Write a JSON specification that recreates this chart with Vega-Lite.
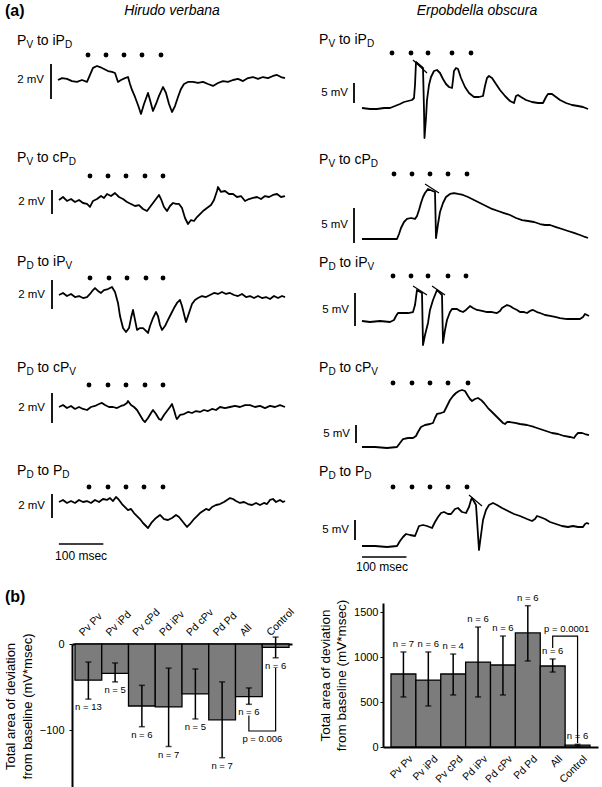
{
"$schema":"https://vega.github.io/schema/vega-lite/v6.json",
"padding":0,
"spacing":0,
"bounds":"flush",
"config":{"view":{"stroke":null},"font":"Liberation Sans","text":{"color":"black"},"point":{"size":24,"filled":true,"color":"black","opacity":1},"axis":{"labelColor":"black","titleColor":"black","domainColor":"black","tickColor":"black","grid":false},"concat":{"spacing":0}},
"vconcat":[
{"width":602,"height":120,"data":{"values":[{}]},"resolve":{"scale":{"x":"independent","y":"independent"}},"layer":[
{"layer":[
{"data":{"values":[{"t":0,"v":0},{"t":9,"v":0.11},{"t":20.25,"v":0.06},{"t":31.5,"v":-0.06},{"t":42.75,"v":-0.11},{"t":54,"v":0},{"t":65.25,"v":-0.11},{"t":72,"v":0.29},{"t":78.75,"v":0.69},{"t":87.75,"v":0.8},{"t":94.5,"v":0.74},{"t":103.5,"v":0.63},{"t":112.5,"v":0.51},{"t":121.5,"v":0.46},{"t":128.25,"v":0.4},{"t":135,"v":-0.11},{"t":141.75,"v":0},{"t":150.75,"v":0.11},{"t":157.5,"v":0.17},{"t":162,"v":-0.23},{"t":166.5,"v":-0.57},{"t":173.25,"v":-0.97},{"t":180,"v":-1.43},{"t":186.75,"v":-1.94},{"t":193.5,"v":-1.37},{"t":202.5,"v":-0.74},{"t":207,"v":-1.14},{"t":213.75,"v":-1.77},{"t":220.5,"v":-1.37},{"t":227.25,"v":-0.91},{"t":236.25,"v":-0.4},{"t":243,"v":-0.74},{"t":249.75,"v":-1.37},{"t":256.5,"v":-1.83},{"t":263.25,"v":-1.49},{"t":270,"v":-0.97},{"t":276.75,"v":-0.51},{"t":283.5,"v":-0.23},{"t":292.5,"v":-0.11},{"t":303.75,"v":-0.11},{"t":315,"v":-0.17},{"t":326.25,"v":-0.11},{"t":337.5,"v":-0.23},{"t":348.75,"v":-0.34},{"t":360,"v":-0.17},{"t":371.25,"v":-0.06},{"t":382.5,"v":-0.11},{"t":393.75,"v":0},{"t":405,"v":0.06},{"t":416.25,"v":-0.06},{"t":427.5,"v":0.11},{"t":438.75,"v":0.17},{"t":450,"v":0.06},{"t":461.25,"v":0.17},{"t":472.5,"v":0.11},{"t":483.75,"v":0.23},{"t":492.75,"v":0.29},{"t":501.75,"v":0.17},{"t":510.75,"v":0.11}]},
 "mark":{"type":"line","color":"black","strokeWidth":1.8,"strokeJoin":"round"},
 "encoding":{"x":{"field":"t","type":"quantitative","scale":{"domain":[-130.5,1224],"nice":false,"zero":false},"axis":null},"y":{"field":"v","type":"quantitative","scale":{"domain":[-2.2857,4.5714],"nice":false,"zero":false},"axis":null}}},
{"data":{"values":[{"t":67.5},{"t":108},{"t":148.5},{"t":189},{"t":231.75}]},"mark":{"type":"point"},"encoding":{"x":{"field":"t","type":"quantitative"},"y":{"datum":1.429,"type":"quantitative"}}},
{"mark":{"type":"rule","color":"black","strokeWidth":1.8},"encoding":{"x":{"datum":-15.75,"type":"quantitative"},"y":{"datum":0.914,"type":"quantitative"},"y2":{"datum":-1.086}}},
{"mark":{"type":"text","text":"2 mV","align":"right","baseline":"middle","dx":-7,"fontSize":11.5},"encoding":{"x":{"datum":-15.75,"type":"quantitative"},"y":{"datum":0,"type":"quantitative"}}},
{"mark":{"type":"text","text":"P","align":"left","baseline":"alphabetic","fontSize":14},"encoding":{"x":{"datum":-92.25,"type":"quantitative"},"y":{"datum":2.0,"type":"quantitative"}}},
{"mark":{"type":"text","text":"V","align":"left","baseline":"alphabetic","fontSize":10,"dx":9.4,"dy":3},"encoding":{"x":{"datum":-92.25,"type":"quantitative"},"y":{"datum":2.0,"type":"quantitative"}}},
{"mark":{"type":"text","text":"to iP","align":"left","baseline":"alphabetic","fontSize":14,"dx":19.9},"encoding":{"x":{"datum":-92.25,"type":"quantitative"},"y":{"datum":2.0,"type":"quantitative"}}},
{"mark":{"type":"text","text":"D","align":"left","baseline":"alphabetic","fontSize":10,"dx":47.9,"dy":3},"encoding":{"x":{"datum":-92.25,"type":"quantitative"},"y":{"datum":2.0,"type":"quantitative"}}},
{"mark":{"type":"text","text":"(a)","align":"left","baseline":"alphabetic","fontSize":16,"fontWeight":"bold"},"encoding":{"x":{"datum":-119.25,"type":"quantitative"},"y":{"datum":3.657,"type":"quantitative"}}},
{"mark":{"type":"text","text":"Hirudo verbana","align":"center","baseline":"alphabetic","fontSize":14,"fontStyle":"italic"},"encoding":{"x":{"datum":256.5,"type":"quantitative"},"y":{"datum":3.714,"type":"quantitative"}}}
]},
{"layer":[
{"data":{"values":[{"t":0,"v":0},{"t":18,"v":-0.25},{"t":33.75,"v":-0.25},{"t":49.5,"v":0},{"t":63,"v":0},{"t":74.25,"v":0.5},{"t":85.5,"v":1.0},{"t":94.5,"v":1.5},{"t":103.5,"v":1.75},{"t":112.5,"v":2.0},{"t":117,"v":2.5},{"t":119.25,"v":5.75},{"t":121.5,"v":11.5},{"t":137.25,"v":10},{"t":139.5,"v":-0.5},{"t":140.6,"v":-7.5},{"t":144,"v":-2.5},{"t":146.25,"v":2},{"t":150.75,"v":5.75},{"t":155.25,"v":7.75},{"t":162,"v":9.25},{"t":168.75,"v":9.5},{"t":175.5,"v":8.75},{"t":182.25,"v":7.25},{"t":189,"v":6},{"t":195.75,"v":5.25},{"t":202.5,"v":5},{"t":204.75,"v":7},{"t":207,"v":9.25},{"t":211.5,"v":10},{"t":216,"v":9.75},{"t":222.75,"v":7.5},{"t":231.75,"v":5.25},{"t":240.75,"v":3.75},{"t":252,"v":2.75},{"t":263.25,"v":2.75},{"t":272.25,"v":3},{"t":276.75,"v":5.5},{"t":281.25,"v":7.5},{"t":285.75,"v":8},{"t":292.5,"v":7.5},{"t":301.5,"v":6},{"t":310.5,"v":4.5},{"t":321.75,"v":3},{"t":333,"v":1.75},{"t":342,"v":1.25},{"t":346.5,"v":3},{"t":351,"v":3.25},{"t":357.75,"v":2.75},{"t":369,"v":2},{"t":382.5,"v":1.5},{"t":396,"v":1.25},{"t":407.25,"v":1.25},{"t":414,"v":2.75},{"t":418.5,"v":3.5},{"t":427.5,"v":3.5},{"t":436.5,"v":2.75},{"t":445.5,"v":2},{"t":459,"v":1.25},{"t":472.5,"v":0.75},{"t":486,"v":0.5},{"t":497.25,"v":0.25},{"t":508.5,"v":-0.25}]},
 "mark":{"type":"line","color":"black","strokeWidth":1.8,"strokeJoin":"round"},
 "encoding":{"x":{"field":"t","type":"quantitative","scale":{"domain":[-814.5,540],"nice":false,"zero":false},"axis":null},"y":{"field":"v","type":"quantitative","scale":{"domain":[-3,27],"nice":false,"zero":false},"axis":null}}},
{"data":{"values":[{"t":114.75,"v":12,"t2":146.25,"v2":8.75}]},"mark":{"type":"rule","color":"black","strokeWidth":1.2},"encoding":{"x":{"field":"t","type":"quantitative"},"y":{"field":"v","type":"quantitative"},"x2":{"field":"t2"},"y2":{"field":"v2"}}},
{"data":{"values":[{"t":67.5},{"t":110.25},{"t":148.5},{"t":202.5},{"t":245.25}]},"mark":{"type":"point"},"encoding":{"x":{"field":"t","type":"quantitative"},"y":{"datum":13.75,"type":"quantitative"}}},
{"mark":{"type":"rule","color":"black","strokeWidth":1.8},"encoding":{"x":{"datum":-18,"type":"quantitative"},"y":{"datum":6.25,"type":"quantitative"},"y2":{"datum":1.25}}},
{"mark":{"type":"text","text":"5 mV","align":"right","baseline":"middle","dx":-6,"fontSize":11.5},"encoding":{"x":{"datum":-18,"type":"quantitative"},"y":{"datum":3.75,"type":"quantitative"}}},
{"mark":{"type":"text","text":"P","align":"left","baseline":"alphabetic","fontSize":14},"encoding":{"x":{"datum":-96.75,"type":"quantitative"},"y":{"datum":16,"type":"quantitative"}}},
{"mark":{"type":"text","text":"V","align":"left","baseline":"alphabetic","fontSize":10,"dx":9.4,"dy":3},"encoding":{"x":{"datum":-96.75,"type":"quantitative"},"y":{"datum":16,"type":"quantitative"}}},
{"mark":{"type":"text","text":"to iP","align":"left","baseline":"alphabetic","fontSize":14,"dx":19.9},"encoding":{"x":{"datum":-96.75,"type":"quantitative"},"y":{"datum":16,"type":"quantitative"}}},
{"mark":{"type":"text","text":"D","align":"left","baseline":"alphabetic","fontSize":10,"dx":47.9,"dy":3},"encoding":{"x":{"datum":-96.75,"type":"quantitative"},"y":{"datum":16,"type":"quantitative"}}},
{"mark":{"type":"text","text":"Erpobdella obscura","align":"center","baseline":"alphabetic","fontSize":14,"fontStyle":"italic"},"encoding":{"x":{"datum":258.75,"type":"quantitative"},"y":{"datum":23.375,"type":"quantitative"}}}
]}
]},
{"width":602,"height":115,"data":{"values":[{}]},"resolve":{"scale":{"x":"independent","y":"independent"}},"layer":[
{"layer":[
{"data":{"values":[{"t":2.25,"v":0},{"t":11.25,"v":0.25},{"t":20.25,"v":-0.08},{"t":29.25,"v":0.08},{"t":38.25,"v":-0.17},{"t":47.25,"v":0},{"t":56.25,"v":-0.25},{"t":65.25,"v":-0.33},{"t":72,"v":-0.58},{"t":78.75,"v":-0.08},{"t":87.75,"v":0.08},{"t":96.75,"v":0.33},{"t":103.5,"v":0.17},{"t":110.25,"v":0.5},{"t":119.25,"v":0.33},{"t":128.25,"v":0.58},{"t":137.25,"v":0.25},{"t":146.25,"v":0.08},{"t":155.25,"v":-0.17},{"t":164.25,"v":-0.33},{"t":173.25,"v":-0.5},{"t":182.25,"v":-0.42},{"t":191.25,"v":-0.75},{"t":200.25,"v":-0.92},{"t":207,"v":-0.58},{"t":213.75,"v":-0.25},{"t":220.5,"v":0.08},{"t":227.25,"v":0.42},{"t":231.75,"v":0.08},{"t":238.5,"v":-0.58},{"t":245.25,"v":-0.92},{"t":252,"v":-0.5},{"t":258.75,"v":-0.25},{"t":265.5,"v":-0.33},{"t":272.25,"v":-0.33},{"t":279,"v":-0.67},{"t":285.75,"v":-1.5},{"t":292.5,"v":-2.0},{"t":299.25,"v":-1.67},{"t":306,"v":-1.75},{"t":312.75,"v":-1.42},{"t":319.5,"v":-1.17},{"t":326.25,"v":-0.92},{"t":335.25,"v":-0.67},{"t":344.25,"v":-0.42},{"t":351,"v":0},{"t":357.75,"v":0.75},{"t":360,"v":1.08},{"t":366.75,"v":0.67},{"t":375.75,"v":0.75},{"t":384.75,"v":0.5},{"t":393.75,"v":0.5},{"t":402.75,"v":0.25},{"t":411.75,"v":0.33},{"t":420.75,"v":-0.08},{"t":429.75,"v":0.08},{"t":438.75,"v":0.17},{"t":447.75,"v":0.25},{"t":456.75,"v":0.08},{"t":465.75,"v":0.33},{"t":474.75,"v":0.25},{"t":483.75,"v":0.42},{"t":492.75,"v":0.5},{"t":501.75,"v":0.25},{"t":510.75,"v":0.33}]},
 "mark":{"type":"line","color":"black","strokeWidth":1.8,"strokeJoin":"round"},
 "encoding":{"x":{"field":"t","type":"quantitative","scale":{"domain":[-130.5,1224],"nice":false,"zero":false},"axis":null},"y":{"field":"v","type":"quantitative","scale":{"domain":[-2.9167,6.6667],"nice":false,"zero":false},"axis":null}}},
{"data":{"values":[{"t":72},{"t":112.5},{"t":153},{"t":195.75},{"t":236.25}]},"mark":{"type":"point"},"encoding":{"x":{"field":"t","type":"quantitative"},"y":{"datum":2.0,"type":"quantitative"}}},
{"mark":{"type":"rule","color":"black","strokeWidth":1.8},"encoding":{"x":{"datum":-13.5,"type":"quantitative"},"y":{"datum":0.833,"type":"quantitative"},"y2":{"datum":-1.167}}},
{"mark":{"type":"text","text":"2 mV","align":"right","baseline":"middle","dx":-7,"fontSize":11.5},"encoding":{"x":{"datum":-13.5,"type":"quantitative"},"y":{"datum":-0.167,"type":"quantitative"}}},
{"mark":{"type":"text","text":"P","align":"left","baseline":"alphabetic","fontSize":14},"encoding":{"x":{"datum":-92.25,"type":"quantitative"},"y":{"datum":3.167,"type":"quantitative"}}},
{"mark":{"type":"text","text":"V","align":"left","baseline":"alphabetic","fontSize":10,"dx":9.4,"dy":3},"encoding":{"x":{"datum":-92.25,"type":"quantitative"},"y":{"datum":3.167,"type":"quantitative"}}},
{"mark":{"type":"text","text":"to cP","align":"left","baseline":"alphabetic","fontSize":14,"dx":19.9},"encoding":{"x":{"datum":-92.25,"type":"quantitative"},"y":{"datum":3.167,"type":"quantitative"}}},
{"mark":{"type":"text","text":"D","align":"left","baseline":"alphabetic","fontSize":10,"dx":51.8,"dy":3},"encoding":{"x":{"datum":-92.25,"type":"quantitative"},"y":{"datum":3.167,"type":"quantitative"}}}
]},
{"layer":[
{"data":{"values":[{"t":0,"v":0},{"t":29.25,"v":0},{"t":56.25,"v":0},{"t":78.75,"v":0},{"t":83.25,"v":0.71},{"t":87.75,"v":1.57},{"t":94.5,"v":2.43},{"t":101.25,"v":2.86},{"t":110.25,"v":3.0},{"t":119.25,"v":2.86},{"t":123.75,"v":3.29},{"t":128.25,"v":4.14},{"t":132.75,"v":5.14},{"t":137.25,"v":6.0},{"t":141.75,"v":6.57},{"t":148.5,"v":7.14},{"t":164.25,"v":6.71},{"t":166.5,"v":0.14},{"t":171,"v":2.14},{"t":175.5,"v":3.86},{"t":182.25,"v":5.14},{"t":189,"v":6.0},{"t":198,"v":6.43},{"t":207,"v":6.57},{"t":216,"v":6.43},{"t":227.25,"v":6.29},{"t":238.5,"v":6.0},{"t":252,"v":5.57},{"t":265.5,"v":5.14},{"t":279,"v":4.71},{"t":292.5,"v":4.29},{"t":306,"v":4.0},{"t":319.5,"v":3.71},{"t":333,"v":3.43},{"t":346.5,"v":3.0},{"t":360,"v":2.71},{"t":373.5,"v":2.57},{"t":387,"v":2.43},{"t":400.5,"v":2.14},{"t":411.75,"v":2.0},{"t":423,"v":2.0},{"t":436.5,"v":1.71},{"t":450,"v":1.43},{"t":463.5,"v":1.14},{"t":477,"v":0.86},{"t":490.5,"v":0.57},{"t":501.75,"v":0.29},{"t":508.5,"v":0.14}]},
 "mark":{"type":"line","color":"black","strokeWidth":1.8,"strokeJoin":"round"},
 "encoding":{"x":{"field":"t","type":"quantitative","scale":{"domain":[-814.5,540],"nice":false,"zero":false},"axis":null},"y":{"field":"v","type":"quantitative","scale":{"domain":[0.5714,17],"nice":false,"zero":false},"axis":null}}},
{"data":{"values":[{"t":141.75,"v":7.86,"t2":173.25,"v2":6.57}]},"mark":{"type":"rule","color":"black","strokeWidth":1.2},"encoding":{"x":{"field":"t","type":"quantitative"},"y":{"field":"v","type":"quantitative"},"x2":{"field":"t2"},"y2":{"field":"v2"}}},
{"data":{"values":[{"t":72},{"t":112.5},{"t":153},{"t":193.5},{"t":236.25}]},"mark":{"type":"point"},"encoding":{"x":{"field":"t","type":"quantitative"},"y":{"datum":9.286,"type":"quantitative"}}},
{"mark":{"type":"rule","color":"black","strokeWidth":1.8},"encoding":{"x":{"datum":-18,"type":"quantitative"},"y":{"datum":4.429,"type":"quantitative"},"y2":{"datum":-0.571}}},
{"mark":{"type":"text","text":"5 mV","align":"right","baseline":"middle","dx":-6,"fontSize":11.5},"encoding":{"x":{"datum":-18,"type":"quantitative"},"y":{"datum":1.929,"type":"quantitative"}}},
{"mark":{"type":"text","text":"P","align":"left","baseline":"alphabetic","fontSize":14},"encoding":{"x":{"datum":-96.75,"type":"quantitative"},"y":{"datum":10.714,"type":"quantitative"}}},
{"mark":{"type":"text","text":"V","align":"left","baseline":"alphabetic","fontSize":10,"dx":9.4,"dy":3},"encoding":{"x":{"datum":-96.75,"type":"quantitative"},"y":{"datum":10.714,"type":"quantitative"}}},
{"mark":{"type":"text","text":"to cP","align":"left","baseline":"alphabetic","fontSize":14,"dx":19.9},"encoding":{"x":{"datum":-96.75,"type":"quantitative"},"y":{"datum":10.714,"type":"quantitative"}}},
{"mark":{"type":"text","text":"D","align":"left","baseline":"alphabetic","fontSize":10,"dx":51.8,"dy":3},"encoding":{"x":{"datum":-96.75,"type":"quantitative"},"y":{"datum":10.714,"type":"quantitative"}}}
]}
]},
{"width":602,"height":110,"data":{"values":[{}]},"resolve":{"scale":{"x":"independent","y":"independent"}},"layer":[
{"layer":[
{"data":{"values":[{"t":2.25,"v":0},{"t":11.25,"v":0.14},{"t":20.25,"v":-0.07},{"t":29.25,"v":0.07},{"t":38.25,"v":-0.14},{"t":47.25,"v":-0.07},{"t":56.25,"v":-0.21},{"t":65.25,"v":-0.14},{"t":72,"v":0.07},{"t":78.75,"v":0.34},{"t":83.25,"v":0.48},{"t":90,"v":0.28},{"t":96.75,"v":0.14},{"t":103.5,"v":0.34},{"t":112.5,"v":0.41},{"t":121.5,"v":0.55},{"t":128.25,"v":0.21},{"t":135,"v":-0.55},{"t":139.5,"v":-1.45},{"t":146.25,"v":-2.28},{"t":153,"v":-2.55},{"t":159.75,"v":-2.28},{"t":164.25,"v":-1.59},{"t":168.75,"v":-1.03},{"t":173.25,"v":-1.72},{"t":177.75,"v":-2.41},{"t":184.5,"v":-2.28},{"t":191.25,"v":-2.28},{"t":198,"v":-2.48},{"t":202.5,"v":-2.62},{"t":207,"v":-2.14},{"t":213.75,"v":-1.59},{"t":220.5,"v":-1.17},{"t":225,"v":-1.45},{"t":229.5,"v":-2.07},{"t":234,"v":-2.41},{"t":240.75,"v":-2.14},{"t":247.5,"v":-1.72},{"t":254.25,"v":-1.31},{"t":261,"v":-0.9},{"t":267.75,"v":-0.55},{"t":274.5,"v":-0.34},{"t":279,"v":-0.76},{"t":285.75,"v":-1.59},{"t":288,"v":-1.86},{"t":294.75,"v":-1.24},{"t":301.5,"v":-0.62},{"t":308.25,"v":-0.34},{"t":315,"v":-0.21},{"t":324,"v":-0.07},{"t":333,"v":-0.14},{"t":342,"v":0},{"t":351,"v":0.14},{"t":360,"v":0.07},{"t":369,"v":0.21},{"t":378,"v":0.07},{"t":387,"v":0.14},{"t":396,"v":0},{"t":405,"v":-0.07},{"t":414,"v":0.07},{"t":423,"v":-0.14},{"t":432,"v":-0.07},{"t":441,"v":-0.21},{"t":450,"v":-0.07},{"t":459,"v":-0.21},{"t":468,"v":-0.14},{"t":477,"v":-0.28},{"t":486,"v":-0.07},{"t":495,"v":-0.21},{"t":504,"v":-0.07},{"t":510.75,"v":-0.14}]},
 "mark":{"type":"line","color":"black","strokeWidth":1.8,"strokeJoin":"round"},
 "encoding":{"x":{"field":"t","type":"quantitative","scale":{"domain":[-130.5,1224],"nice":false,"zero":false},"axis":null},"y":{"field":"v","type":"quantitative","scale":{"domain":[-3.4483,4.1379],"nice":false,"zero":false},"axis":null}}},
{"data":{"values":[{"t":72},{"t":114.75},{"t":155.25},{"t":198},{"t":236.25}]},"mark":{"type":"point"},"encoding":{"x":{"field":"t","type":"quantitative"},"y":{"datum":1.172,"type":"quantitative"}}},
{"mark":{"type":"rule","color":"black","strokeWidth":1.8},"encoding":{"x":{"datum":-13.5,"type":"quantitative"},"y":{"datum":1.034,"type":"quantitative"},"y2":{"datum":-0.966}}},
{"mark":{"type":"text","text":"2 mV","align":"right","baseline":"middle","dx":-7,"fontSize":11.5},"encoding":{"x":{"datum":-13.5,"type":"quantitative"},"y":{"datum":0.034,"type":"quantitative"}}},
{"mark":{"type":"text","text":"P","align":"left","baseline":"alphabetic","fontSize":14},"encoding":{"x":{"datum":-92.25,"type":"quantitative"},"y":{"datum":2.0,"type":"quantitative"}}},
{"mark":{"type":"text","text":"D","align":"left","baseline":"alphabetic","fontSize":10,"dx":9.4,"dy":3},"encoding":{"x":{"datum":-92.25,"type":"quantitative"},"y":{"datum":2.0,"type":"quantitative"}}},
{"mark":{"type":"text","text":"to iP","align":"left","baseline":"alphabetic","fontSize":14,"dx":20.45},"encoding":{"x":{"datum":-92.25,"type":"quantitative"},"y":{"datum":2.0,"type":"quantitative"}}},
{"mark":{"type":"text","text":"V","align":"left","baseline":"alphabetic","fontSize":10,"dx":48.45,"dy":3},"encoding":{"x":{"datum":-92.25,"type":"quantitative"},"y":{"datum":2.0,"type":"quantitative"}}}
]},
{"layer":[
{"data":{"values":[{"t":0,"v":0},{"t":18,"v":-0.15},{"t":40.5,"v":0},{"t":63,"v":-0.15},{"t":72,"v":0.15},{"t":76.5,"v":0.76},{"t":81,"v":1.21},{"t":92.25,"v":1.21},{"t":103.5,"v":1.21},{"t":114.75,"v":1.36},{"t":119.25,"v":2.42},{"t":123.75,"v":4.7},{"t":135,"v":4.24},{"t":137.25,"v":-3.64},{"t":141.75,"v":-2.12},{"t":148.5,"v":-0.3},{"t":153,"v":1.67},{"t":159.75,"v":3.18},{"t":168.75,"v":4.7},{"t":180,"v":3.94},{"t":182.25,"v":-3.33},{"t":186.75,"v":-1.36},{"t":191.25,"v":0.15},{"t":198,"v":1.36},{"t":202.5,"v":1.82},{"t":213.75,"v":1.82},{"t":220.5,"v":1.52},{"t":227.25,"v":1.36},{"t":234,"v":1.67},{"t":243,"v":2.27},{"t":249.75,"v":1.97},{"t":258.75,"v":1.67},{"t":270,"v":1.52},{"t":281.25,"v":1.36},{"t":292.5,"v":1.36},{"t":303.75,"v":1.21},{"t":310.5,"v":1.52},{"t":315,"v":1.97},{"t":326.25,"v":2.42},{"t":333,"v":2.27},{"t":339.75,"v":1.97},{"t":348.75,"v":1.67},{"t":355.5,"v":1.36},{"t":364.5,"v":1.36},{"t":371.25,"v":1.21},{"t":378,"v":1.52},{"t":384.75,"v":1.67},{"t":393.75,"v":1.36},{"t":400.5,"v":1.21},{"t":411.75,"v":0.91},{"t":423,"v":0.76},{"t":434.25,"v":0.61},{"t":445.5,"v":0.45},{"t":461.25,"v":0.3},{"t":477,"v":0.3},{"t":490.5,"v":0.3},{"t":497.25,"v":0.61},{"t":501.75,"v":1.06},{"t":506.25,"v":0.91},{"t":510.75,"v":0.76}]},
 "mark":{"type":"line","color":"black","strokeWidth":1.8,"strokeJoin":"round"},
 "encoding":{"x":{"field":"t","type":"quantitative","scale":{"domain":[-814.5,540],"nice":false,"zero":false},"axis":null},"y":{"field":"v","type":"quantitative","scale":{"domain":[-3.6364,13.0303],"nice":false,"zero":false},"axis":null}}},
{"data":{"values":[{"t":114.75,"v":5.3,"t2":146.25,"v2":3.94},{"t":157.5,"v":5.3,"t2":186.75,"v2":3.94}]},"mark":{"type":"rule","color":"black","strokeWidth":1.2},"encoding":{"x":{"field":"t","type":"quantitative"},"y":{"field":"v","type":"quantitative"},"x2":{"field":"t2"},"y2":{"field":"v2"}}},
{"data":{"values":[{"t":69.75},{"t":110.25},{"t":148.5},{"t":193.5},{"t":234}]},"mark":{"type":"point"},"encoding":{"x":{"field":"t","type":"quantitative"},"y":{"datum":6.818,"type":"quantitative"}}},
{"mark":{"type":"rule","color":"black","strokeWidth":1.8},"encoding":{"x":{"datum":-15.75,"type":"quantitative"},"y":{"datum":4.242,"type":"quantitative"},"y2":{"datum":-0.758}}},
{"mark":{"type":"text","text":"5 mV","align":"right","baseline":"middle","dx":-6,"fontSize":11.5},"encoding":{"x":{"datum":-15.75,"type":"quantitative"},"y":{"datum":1.742,"type":"quantitative"}}},
{"mark":{"type":"text","text":"P","align":"left","baseline":"alphabetic","fontSize":14},"encoding":{"x":{"datum":-96.75,"type":"quantitative"},"y":{"datum":8.18,"type":"quantitative"}}},
{"mark":{"type":"text","text":"D","align":"left","baseline":"alphabetic","fontSize":10,"dx":9.4,"dy":3},"encoding":{"x":{"datum":-96.75,"type":"quantitative"},"y":{"datum":8.18,"type":"quantitative"}}},
{"mark":{"type":"text","text":"to iP","align":"left","baseline":"alphabetic","fontSize":14,"dx":20.45},"encoding":{"x":{"datum":-96.75,"type":"quantitative"},"y":{"datum":8.18,"type":"quantitative"}}},
{"mark":{"type":"text","text":"V","align":"left","baseline":"alphabetic","fontSize":10,"dx":48.45,"dy":3},"encoding":{"x":{"datum":-96.75,"type":"quantitative"},"y":{"datum":8.18,"type":"quantitative"}}}
]}
]},
{"width":602,"height":105,"data":{"values":[{}]},"resolve":{"scale":{"x":"independent","y":"independent"}},"layer":[
{"layer":[
{"data":{"values":[{"t":2.25,"v":0},{"t":11.25,"v":0.13},{"t":20.25,"v":-0.07},{"t":29.25,"v":0.07},{"t":38.25,"v":-0.13},{"t":47.25,"v":0},{"t":56.25,"v":-0.13},{"t":65.25,"v":-0.2},{"t":74.25,"v":0},{"t":83.25,"v":0.07},{"t":92.25,"v":0.2},{"t":99,"v":0.27},{"t":105.75,"v":0.13},{"t":114.75,"v":0},{"t":123.75,"v":0},{"t":132.75,"v":-0.07},{"t":141.75,"v":0.07},{"t":148.5,"v":0.13},{"t":155.25,"v":0.27},{"t":157.5,"v":0.4},{"t":164.25,"v":0.13},{"t":171,"v":0},{"t":177.75,"v":-0.2},{"t":184.5,"v":-0.53},{"t":191.25,"v":-0.87},{"t":195.75,"v":-1.0},{"t":202.5,"v":-0.73},{"t":209.25,"v":-0.4},{"t":213.75,"v":-0.2},{"t":220.5,"v":-0.47},{"t":227.25,"v":-0.8},{"t":231.75,"v":-0.87},{"t":238.5,"v":-0.53},{"t":245.25,"v":-0.27},{"t":252,"v":0},{"t":256.5,"v":0.2},{"t":261,"v":-0.2},{"t":265.5,"v":-0.67},{"t":267.75,"v":-0.8},{"t":274.5,"v":-0.53},{"t":283.5,"v":-0.47},{"t":292.5,"v":-0.33},{"t":301.5,"v":-0.4},{"t":310.5,"v":-0.27},{"t":319.5,"v":-0.33},{"t":328.5,"v":-0.2},{"t":337.5,"v":-0.27},{"t":346.5,"v":-0.13},{"t":355.5,"v":-0.2},{"t":364.5,"v":0},{"t":375.75,"v":-0.07},{"t":387,"v":0},{"t":398.25,"v":0.07},{"t":409.5,"v":0},{"t":420.75,"v":0.13},{"t":432,"v":0.13},{"t":443.25,"v":0},{"t":454.5,"v":0.07},{"t":465.75,"v":-0.07},{"t":477,"v":0.07},{"t":488.25,"v":0},{"t":499.5,"v":0.13},{"t":510.75,"v":0}]},
 "mark":{"type":"line","color":"black","strokeWidth":1.8,"strokeJoin":"round"},
 "encoding":{"x":{"field":"t","type":"quantitative","scale":{"domain":[-130.5,1224],"nice":false,"zero":false},"axis":null},"y":{"field":"v","type":"quantitative","scale":{"domain":[-2.8667,4.1333],"nice":false,"zero":false},"axis":null}}},
{"data":{"values":[{"t":69.75},{"t":112.5},{"t":153},{"t":195.75},{"t":236.25}]},"mark":{"type":"point"},"encoding":{"x":{"field":"t","type":"quantitative"},"y":{"datum":1.467,"type":"quantitative"}}},
{"mark":{"type":"rule","color":"black","strokeWidth":1.8},"encoding":{"x":{"datum":-13.5,"type":"quantitative"},"y":{"datum":0.933,"type":"quantitative"},"y2":{"datum":-1.067}}},
{"mark":{"type":"text","text":"2 mV","align":"right","baseline":"middle","dx":-7,"fontSize":11.5},"encoding":{"x":{"datum":-13.5,"type":"quantitative"},"y":{"datum":-0.067,"type":"quantitative"}}},
{"mark":{"type":"text","text":"P","align":"left","baseline":"alphabetic","fontSize":14},"encoding":{"x":{"datum":-92.25,"type":"quantitative"},"y":{"datum":2.333,"type":"quantitative"}}},
{"mark":{"type":"text","text":"D","align":"left","baseline":"alphabetic","fontSize":10,"dx":9.4,"dy":3},"encoding":{"x":{"datum":-92.25,"type":"quantitative"},"y":{"datum":2.333,"type":"quantitative"}}},
{"mark":{"type":"text","text":"to cP","align":"left","baseline":"alphabetic","fontSize":14,"dx":20.45},"encoding":{"x":{"datum":-92.25,"type":"quantitative"},"y":{"datum":2.333,"type":"quantitative"}}},
{"mark":{"type":"text","text":"V","align":"left","baseline":"alphabetic","fontSize":10,"dx":52.35,"dy":3},"encoding":{"x":{"datum":-92.25,"type":"quantitative"},"y":{"datum":2.333,"type":"quantitative"}}}
]},
{"layer":[
{"data":{"values":[{"t":0,"v":0},{"t":29.25,"v":0},{"t":56.25,"v":-0.28},{"t":78.75,"v":0},{"t":85.5,"v":1.11},{"t":92.25,"v":2.22},{"t":103.5,"v":2.5},{"t":114.75,"v":2.5},{"t":121.5,"v":3.06},{"t":126,"v":4.17},{"t":132.75,"v":5.56},{"t":141.75,"v":6.11},{"t":153,"v":6.39},{"t":159.75,"v":6.67},{"t":164.25,"v":8.06},{"t":168.75,"v":9.17},{"t":177.75,"v":9.44},{"t":184.5,"v":9.72},{"t":189,"v":10.83},{"t":193.5,"v":11.94},{"t":198,"v":13.06},{"t":204.75,"v":14.17},{"t":211.5,"v":15.0},{"t":218.25,"v":15.56},{"t":225,"v":15.83},{"t":231.75,"v":15.56},{"t":238.5,"v":14.17},{"t":243,"v":13.33},{"t":247.5,"v":12.78},{"t":254.25,"v":13.33},{"t":261,"v":13.61},{"t":267.75,"v":13.06},{"t":274.5,"v":12.22},{"t":283.5,"v":10.83},{"t":292.5,"v":9.72},{"t":301.5,"v":8.61},{"t":310.5,"v":7.5},{"t":317.25,"v":6.67},{"t":321.75,"v":6.39},{"t":326.25,"v":6.94},{"t":333,"v":6.94},{"t":344.25,"v":6.67},{"t":355.5,"v":6.39},{"t":371.25,"v":6.11},{"t":387,"v":5.56},{"t":400.5,"v":5.0},{"t":414,"v":4.44},{"t":427.5,"v":3.89},{"t":441,"v":3.61},{"t":454.5,"v":3.06},{"t":468,"v":2.78},{"t":477,"v":2.5},{"t":481.5,"v":3.33},{"t":486,"v":3.89},{"t":495,"v":3.89},{"t":501.75,"v":3.61},{"t":510.75,"v":3.33}]},
 "mark":{"type":"line","color":"black","strokeWidth":1.8,"strokeJoin":"round"},
 "encoding":{"x":{"field":"t","type":"quantitative","scale":{"domain":[-814.5,540],"nice":false,"zero":false},"axis":null},"y":{"field":"v","type":"quantitative","scale":{"domain":[-0.8333,28.3333],"nice":false,"zero":false},"axis":null}}},
{"data":{"values":[{"t":69.75},{"t":112.5},{"t":153},{"t":193.5},{"t":238.5}]},"mark":{"type":"point"},"encoding":{"x":{"field":"t","type":"quantitative"},"y":{"datum":17.78,"type":"quantitative"}}},
{"mark":{"type":"rule","color":"black","strokeWidth":1.8},"encoding":{"x":{"datum":-13.5,"type":"quantitative"},"y":{"datum":6.111,"type":"quantitative"},"y2":{"datum":1.111}}},
{"mark":{"type":"text","text":"5 mV","align":"right","baseline":"middle","dx":-6,"fontSize":11.5},"encoding":{"x":{"datum":-13.5,"type":"quantitative"},"y":{"datum":3.611,"type":"quantitative"}}},
{"mark":{"type":"text","text":"P","align":"left","baseline":"alphabetic","fontSize":14},"encoding":{"x":{"datum":-96.75,"type":"quantitative"},"y":{"datum":20.83,"type":"quantitative"}}},
{"mark":{"type":"text","text":"D","align":"left","baseline":"alphabetic","fontSize":10,"dx":9.4,"dy":3},"encoding":{"x":{"datum":-96.75,"type":"quantitative"},"y":{"datum":20.83,"type":"quantitative"}}},
{"mark":{"type":"text","text":"to cP","align":"left","baseline":"alphabetic","fontSize":14,"dx":20.45},"encoding":{"x":{"datum":-96.75,"type":"quantitative"},"y":{"datum":20.83,"type":"quantitative"}}},
{"mark":{"type":"text","text":"V","align":"left","baseline":"alphabetic","fontSize":10,"dx":52.35,"dy":3},"encoding":{"x":{"datum":-96.75,"type":"quantitative"},"y":{"datum":20.83,"type":"quantitative"}}}
]}
]},
{"width":602,"height":153,"data":{"values":[{}]},"resolve":{"scale":{"x":"independent","y":"independent"}},"layer":[
{"layer":[
{"data":{"values":[{"t":2.25,"v":0},{"t":11.25,"v":0.17},{"t":20.25,"v":-0.08},{"t":29.25,"v":0.08},{"t":38.25,"v":-0.08},{"t":47.25,"v":0.17},{"t":56.25,"v":0},{"t":65.25,"v":0.08},{"t":74.25,"v":-0.08},{"t":83.25,"v":0.17},{"t":92.25,"v":0},{"t":101.25,"v":0.25},{"t":110.25,"v":0.17},{"t":117,"v":0.33},{"t":123.75,"v":0.08},{"t":130.5,"v":0.42},{"t":137.25,"v":0.17},{"t":144,"v":-0.17},{"t":150.75,"v":-0.42},{"t":157.5,"v":-0.67},{"t":164.25,"v":-0.58},{"t":171,"v":-0.92},{"t":177.75,"v":-1.17},{"t":184.5,"v":-1.42},{"t":191.25,"v":-1.75},{"t":198,"v":-2.0},{"t":202.5,"v":-2.17},{"t":211.5,"v":-1.67},{"t":220.5,"v":-1.33},{"t":229.5,"v":-1.08},{"t":238.5,"v":-1.42},{"t":247.5,"v":-1.5},{"t":256.5,"v":-1.33},{"t":265.5,"v":-1.08},{"t":272.25,"v":-1.25},{"t":281.25,"v":-1.67},{"t":290.25,"v":-2.08},{"t":297,"v":-1.83},{"t":306,"v":-1.42},{"t":312.75,"v":-1.17},{"t":319.5,"v":-0.92},{"t":326.25,"v":-0.75},{"t":333,"v":-0.58},{"t":339.75,"v":-0.67},{"t":346.5,"v":-0.42},{"t":355.5,"v":-0.25},{"t":364.5,"v":-0.17},{"t":373.5,"v":0},{"t":380.25,"v":0.17},{"t":387,"v":0.33},{"t":393.75,"v":0.25},{"t":400.5,"v":0.08},{"t":409.5,"v":-0.08},{"t":418.5,"v":0},{"t":427.5,"v":-0.17},{"t":436.5,"v":-0.25},{"t":445.5,"v":-0.08},{"t":454.5,"v":-0.25},{"t":463.5,"v":-0.08},{"t":470.25,"v":-0.17},{"t":477,"v":0.17},{"t":483.75,"v":0.25},{"t":490.5,"v":0},{"t":499.5,"v":0.17},{"t":506.25,"v":0},{"t":510.75,"v":0.08}]},
 "mark":{"type":"line","color":"black","strokeWidth":1.8,"strokeJoin":"round"},
 "encoding":{"x":{"field":"t","type":"quantitative","scale":{"domain":[-130.5,1224],"nice":false,"zero":false},"axis":null},"y":{"field":"v","type":"quantitative","scale":{"domain":[-8.4167,4.3333],"nice":false,"zero":false},"axis":null}}},
{"data":{"values":[{"t":69.75},{"t":112.5},{"t":153},{"t":193.5},{"t":236.25}]},"mark":{"type":"point"},"encoding":{"x":{"field":"t","type":"quantitative"},"y":{"datum":1.25,"type":"quantitative"}}},
{"mark":{"type":"rule","color":"black","strokeWidth":1.8},"encoding":{"x":{"datum":-13.5,"type":"quantitative"},"y":{"datum":0.667,"type":"quantitative"},"y2":{"datum":-1.333}}},
{"mark":{"type":"text","text":"2 mV","align":"right","baseline":"middle","dx":-7,"fontSize":11.5},"encoding":{"x":{"datum":-13.5,"type":"quantitative"},"y":{"datum":-0.333,"type":"quantitative"}}},
{"mark":{"type":"rule","color":"black","strokeWidth":1.5},"encoding":{"x":{"datum":2,"type":"quantitative"},"x2":{"datum":102},"y":{"datum":-3.5,"type":"quantitative"}}},
{"mark":{"type":"text","text":"100 msec","align":"center","baseline":"alphabetic","fontSize":12},"encoding":{"x":{"datum":52,"type":"quantitative"},"y":{"datum":-4.833,"type":"quantitative"}}},
{"mark":{"type":"text","text":"(b)","align":"left","baseline":"alphabetic","fontSize":16,"fontWeight":"bold"},"encoding":{"x":{"datum":-119.25,"type":"quantitative"},"y":{"datum":-8.333,"type":"quantitative"}}},
{"mark":{"type":"text","text":"P","align":"left","baseline":"alphabetic","fontSize":14},"encoding":{"x":{"datum":-92.25,"type":"quantitative"},"y":{"datum":2.25,"type":"quantitative"}}},
{"mark":{"type":"text","text":"D","align":"left","baseline":"alphabetic","fontSize":10,"dx":9.4,"dy":3},"encoding":{"x":{"datum":-92.25,"type":"quantitative"},"y":{"datum":2.25,"type":"quantitative"}}},
{"mark":{"type":"text","text":"to P","align":"left","baseline":"alphabetic","fontSize":14,"dx":20.45},"encoding":{"x":{"datum":-92.25,"type":"quantitative"},"y":{"datum":2.25,"type":"quantitative"}}},
{"mark":{"type":"text","text":"D","align":"left","baseline":"alphabetic","fontSize":10,"dx":45.35,"dy":3},"encoding":{"x":{"datum":-92.25,"type":"quantitative"},"y":{"datum":2.25,"type":"quantitative"}}}
]},
{"layer":[
{"data":{"values":[{"t":0,"v":0},{"t":29.25,"v":0},{"t":56.25,"v":-0.25},{"t":78.75,"v":0},{"t":85.5,"v":1.25},{"t":92.25,"v":2.25},{"t":99,"v":3.0},{"t":108,"v":2.75},{"t":119.25,"v":2.5},{"t":123.75,"v":3.75},{"t":128.25,"v":5.0},{"t":137.25,"v":5.25},{"t":146.25,"v":5.0},{"t":157.5,"v":4.5},{"t":164.25,"v":6.0},{"t":171,"v":7.25},{"t":177.75,"v":8.25},{"t":184.5,"v":8.5},{"t":193.5,"v":8.0},{"t":200.25,"v":8.0},{"t":209.25,"v":9.25},{"t":216,"v":9.5},{"t":225,"v":8.5},{"t":234,"v":8.25},{"t":240.75,"v":9.75},{"t":245.25,"v":11.5},{"t":247.5,"v":12.0},{"t":256.5,"v":10.25},{"t":263.25,"v":-1.0},{"t":267.75,"v":2.75},{"t":272.25,"v":6.5},{"t":279,"v":9.0},{"t":285.75,"v":10.25},{"t":294.75,"v":10.75},{"t":303.75,"v":10.25},{"t":315,"v":9.5},{"t":328.5,"v":8.75},{"t":342,"v":8.0},{"t":355.5,"v":7.5},{"t":371.25,"v":6.75},{"t":382.5,"v":6.25},{"t":389.25,"v":6.75},{"t":393.75,"v":7.5},{"t":400.5,"v":7.25},{"t":411.75,"v":6.75},{"t":423,"v":6.0},{"t":436.5,"v":5.5},{"t":450,"v":5.0},{"t":463.5,"v":4.75},{"t":474.75,"v":5.0},{"t":486,"v":4.75},{"t":497.25,"v":4.75},{"t":501.75,"v":5.5},{"t":506.25,"v":5.75},{"t":510.75,"v":5.5}]},
 "mark":{"type":"line","color":"black","strokeWidth":1.8,"strokeJoin":"round"},
 "encoding":{"x":{"field":"t","type":"quantitative","scale":{"domain":[-814.5,540],"nice":false,"zero":false},"axis":null},"y":{"field":"v","type":"quantitative","scale":{"domain":[-14.25,24],"nice":false,"zero":false},"axis":null}}},
{"data":{"values":[{"t":240.75,"v":12.75,"t2":270,"v2":10}]},"mark":{"type":"rule","color":"black","strokeWidth":1.2},"encoding":{"x":{"field":"t","type":"quantitative"},"y":{"field":"v","type":"quantitative"},"x2":{"field":"t2"},"y2":{"field":"v2"}}},
{"data":{"values":[{"t":69.75},{"t":112.5},{"t":153},{"t":193.5},{"t":236.25}]},"mark":{"type":"point"},"encoding":{"x":{"field":"t","type":"quantitative"},"y":{"datum":14.75,"type":"quantitative"}}},
{"mark":{"type":"rule","color":"black","strokeWidth":1.8},"encoding":{"x":{"datum":-15.75,"type":"quantitative"},"y":{"datum":6.5,"type":"quantitative"},"y2":{"datum":1.5}}},
{"mark":{"type":"text","text":"5 mV","align":"right","baseline":"middle","dx":-6,"fontSize":11.5},"encoding":{"x":{"datum":-15.75,"type":"quantitative"},"y":{"datum":4.0,"type":"quantitative"}}},
{"mark":{"type":"rule","color":"black","strokeWidth":1.5},"encoding":{"x":{"datum":0,"type":"quantitative"},"x2":{"datum":100},"y":{"datum":-2.75,"type":"quantitative"}}},
{"mark":{"type":"text","text":"100 msec","align":"center","baseline":"alphabetic","fontSize":12},"encoding":{"x":{"datum":45,"type":"quantitative"},"y":{"datum":-6.25,"type":"quantitative"}}},
{"mark":{"type":"text","text":"P","align":"left","baseline":"alphabetic","fontSize":14},"encoding":{"x":{"datum":-96.75,"type":"quantitative"},"y":{"datum":17.5,"type":"quantitative"}}},
{"mark":{"type":"text","text":"D","align":"left","baseline":"alphabetic","fontSize":10,"dx":9.4,"dy":3},"encoding":{"x":{"datum":-96.75,"type":"quantitative"},"y":{"datum":17.5,"type":"quantitative"}}},
{"mark":{"type":"text","text":"to P","align":"left","baseline":"alphabetic","fontSize":14,"dx":20.45},"encoding":{"x":{"datum":-96.75,"type":"quantitative"},"y":{"datum":17.5,"type":"quantitative"}}},
{"mark":{"type":"text","text":"D","align":"left","baseline":"alphabetic","fontSize":10,"dx":45.35,"dy":3},"encoding":{"x":{"datum":-96.75,"type":"quantitative"},"y":{"datum":17.5,"type":"quantitative"}}}
]}
]},
{"width":602,"height":184,"resolve":{"scale":{"x":"independent","y":"independent"},"axis":{"x":"independent","y":"independent"}},"layer":[
{"data":{"values":[{"c":"Pv Pv","m":-42,"lo":-64,"hi":-21,"n":"n = 13"},{"c":"Pv iPd","m":-34,"lo":-44,"hi":-22,"n":"n = 5"},{"c":"Pv cPd","m":-72,"lo":-96,"hi":-48,"n":"n = 6"},{"c":"Pd iPv","m":-73,"lo":-119,"hi":-28,"n":"n = 7"},{"c":"Pd cPv","m":-58,"lo":-87,"hi":-29,"n":"n = 5"},{"c":"Pd Pd","m":-88,"lo":-132,"hi":-44,"n":"n = 7"},{"c":"All","m":-61,"lo":-70,"hi":-51,"n":"n = 6"},{"c":"Control","m":-4,"lo":-16,"hi":8,"n":"n = 6"}]},
 "encoding":{"x":{"field":"c","type":"nominal","scale":{"domain":["Pv Pv","Pv iPd","Pv cPd","Pd iPv","Pd cPv","Pd Pd","All","Control"],"range":[72,292],"paddingInner":0,"paddingOuter":0.112},"axis":{"orient":"top","offset":-41,"title":null,"labelAngle":-45,"labelAlign":"left","labelBaseline":"alphabetic","labelPadding":8,"labelOffset":-5,"ticks":false,"labelFontSize":10.5,"domainWidth":2,"labelOverlap":false,"labelBound":false}}},
 "layer":[
 {"mark":{"type":"bar","color":"#7c7c7c","stroke":"black","strokeWidth":1.3},"encoding":{"y":{"field":"m","type":"quantitative","scale":{"domain":[-166,0],"range":[184,41],"nice":false,"zero":false},"axis":{"orient":"left","offset":-72,"title":["Total area of deviation","from baseline (mV*msec)"],"values":[0,-100],"format":"d","domainWidth":2,"tickSize":3,"labelPadding":5,"labelFontSize":11,"titleFontSize":13,"titleFontWeight":"normal","titleLineHeight":16.5,"titlePadding":5,"titleY":103}},"y2":{"datum":0}}},
 {"mark":{"type":"rule","color":"black","strokeWidth":1.5},"encoding":{"y":{"field":"lo","type":"quantitative"},"y2":{"field":"hi"}}},
 {"mark":{"type":"tick","color":"black","orient":"horizontal","size":6,"thickness":1.5},"encoding":{"y":{"field":"lo","type":"quantitative"}}},
 {"mark":{"type":"tick","color":"black","orient":"horizontal","size":6,"thickness":1.5},"encoding":{"y":{"field":"hi","type":"quantitative"}}},
 {"mark":{"type":"text","baseline":"top","dy":3,"fontSize":9.5},"encoding":{"y":{"field":"lo","type":"quantitative"},"text":{"field":"n"}}},
 {"data":{"values":[{"c":"All","y":-83,"i":0},{"c":"All","y":-101,"i":1},{"c":"Control","y":-101,"i":2},{"c":"Control","y":-28,"i":3}]},"mark":{"type":"line","color":"black","strokeWidth":1.2},"encoding":{"y":{"field":"y","type":"quantitative"},"order":{"field":"i"}}},
 {"data":{"values":[{}]},"mark":{"type":"text","text":"p = 0.006","baseline":"top","dy":3,"dx":13.5,"fontSize":9.5},"encoding":{"x":{"datum":"All"},"y":{"datum":-101,"type":"quantitative"}}}
 ]},
{"data":{"values":[{"c":"Pv Pv","m":811,"lo":556,"hi":1056,"n":"n = 7"},{"c":"Pv iPd","m":744,"lo":456,"hi":1056,"n":"n = 6"},{"c":"Pv cPd","m":811,"lo":578,"hi":1033,"n":"n = 4"},{"c":"Pd iPv","m":944,"lo":556,"hi":1333,"n":"n = 6"},{"c":"Pd cPv","m":911,"lo":578,"hi":1233,"n":"n = 6"},{"c":"Pd Pd","m":1267,"lo":956,"hi":1570,"n":"n = 6"},{"c":"All","m":900,"lo":833,"hi":978,"n":"n = 6"},{"c":"Control","m":20,"lo":10,"hi":30,"n":"n = 6"}]},
 "encoding":{"x":{"field":"c","type":"nominal","scale":{"domain":["Pv Pv","Pv iPd","Pv cPd","Pd iPv","Pd cPv","Pd Pd","All","Control"],"range":[383,598],"paddingInner":0,"paddingOuter":0.3216},"axis":{"orient":"bottom","offset":-40,"title":null,"labelAngle":-45,"labelAlign":"right","labelBaseline":"middle","labelPadding":10,"labelOffset":8,"ticks":false,"labelFontSize":10.5,"domainWidth":2,"labelOverlap":false,"labelBound":false}}},
 "layer":[
 {"mark":{"type":"bar","color":"#7c7c7c","stroke":"black","strokeWidth":1.3},"encoding":{"y":{"field":"m","type":"quantitative","scale":{"domain":[0,1600],"range":[144,0],"nice":false,"zero":false},"axis":{"orient":"left","offset":-383,"title":["Total area of deviation","from baseline (mV*msec)"],"values":[0,500,1000,1500],"format":"d","domainWidth":2,"tickSize":3,"labelPadding":2,"labelFontSize":11,"titleFontSize":13.5,"titleFontWeight":"normal","titleLineHeight":16.5,"titlePadding":5}},"y2":{"datum":0}}},
 {"mark":{"type":"rule","color":"black","strokeWidth":1.5},"encoding":{"y":{"field":"lo","type":"quantitative"},"y2":{"field":"hi"}}},
 {"mark":{"type":"tick","color":"black","orient":"horizontal","size":6,"thickness":1.5},"encoding":{"y":{"field":"lo","type":"quantitative"}}},
 {"mark":{"type":"tick","color":"black","orient":"horizontal","size":6,"thickness":1.5},"encoding":{"y":{"field":"hi","type":"quantitative"}}},
 {"mark":{"type":"text","baseline":"bottom","dy":-3,"fontSize":9.5},"encoding":{"y":{"field":"hi","type":"quantitative"},"text":{"field":"n"}}},
 {"data":{"values":[{"c":"All","y":1100,"i":0},{"c":"All","y":1233,"i":1},{"c":"Control","y":1233,"i":2},{"c":"Control","y":44,"i":3}]},"mark":{"type":"line","color":"black","strokeWidth":1.2},"encoding":{"y":{"field":"y","type":"quantitative"},"order":{"field":"i"}}},
 {"data":{"values":[{}]},"mark":{"type":"text","text":"p = 0.0001","baseline":"bottom","dy":-2,"dx":14,"fontSize":9.5},"encoding":{"x":{"datum":"All"},"y":{"datum":1233,"type":"quantitative"}}}
 ]}
]}
]
}
